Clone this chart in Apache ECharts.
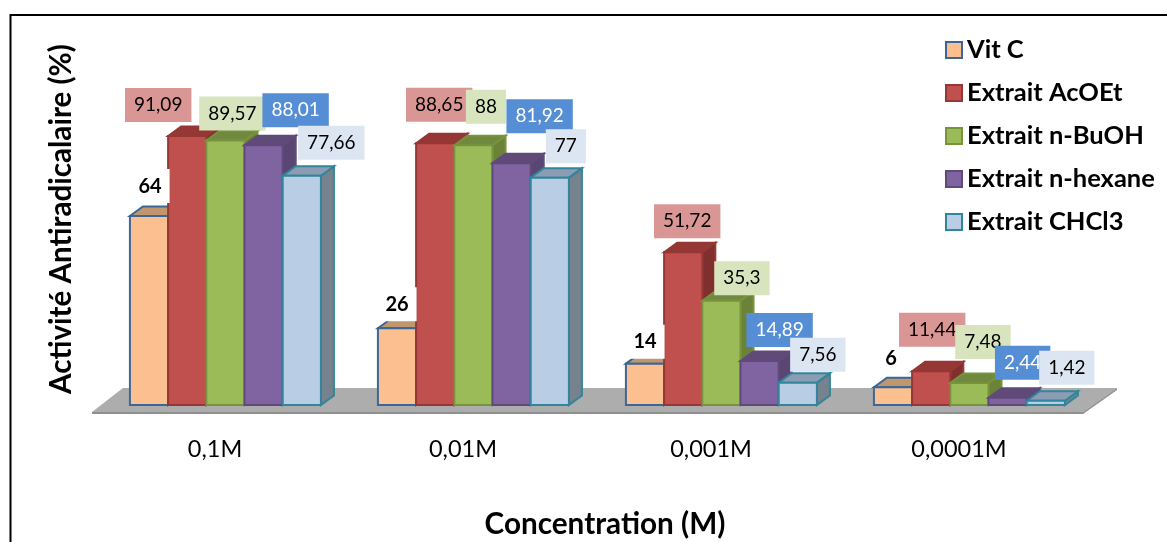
<!DOCTYPE html>
<html>
<head>
<meta charset="utf-8">
<style>
  html, body { margin: 0; padding: 0; background: #fff; }
  #chart { width: 1167px; height: 542px; }
</style>
<script src="https://cdn.jsdelivr.net/npm/echarts@6/dist/echarts.min.js"></script>
</head>
<body>
<div id="chart"></div>
<script>
// values
var categories = ['0,1M', '0,01M', '0,001M', '0,0001M'];
var vitC = [64, 26, 14, 6];
var extraitAcOEt = [91.09, 88.65, 51.72, 11.44];
var extraitBuOH = [89.57, 88, 35.3, 7.48];
var extraitHexane = [88.01, 81.92, 14.89, 2.44];
var extraitCHCl3 = [77.66, 77, 7.56, 1.42];

var FONT = 'Lato, sans-serif';
var BAR_W = 38.2, DEPTH_X = 13, DEPTH_Y = 9.5;

// hand placed data labels, offset from the top middle of the bar
var labelShift = [
  [[1, -30], [0, -24], [0, -22], [-2, -29]],
  [[-29, -31], [4, -38.5], [4, -31], [1, -41.5]],
  [[7, -27], [12.5, -38.5], [20.5, -22.5], [13.5, -41]],
  [[32, -35], [28, -47], [20, -31], [15, -35]],
  [[29.5, -33], [16, -31.5], [20, -28], [21, -33]]
];

var looks = [
  { name: 'Vit C', values: vitC, front: '#fcbf8f', edge: '#3a6795', top: '#c0966f', side: '#b98e6a',
    labelBg: '#fff', labelColor: '#000', labelFont: 'bold 20px ' + FONT, pad: [7, 8] },
  { name: 'Extrait AcOEt', values: extraitAcOEt, front: '#c0504d', edge: '#953735', top: '#953735', side: '#7f302e',
    labelBg: '#d99694', labelColor: '#000', labelFont: '19px ' + FONT, pad: [7.5, 9] },
  { name: 'Extrait n-BuOH', values: extraitBuOH, front: '#9bbb59', edge: '#77933c', top: '#71893f', side: '#6a8338',
    labelBg: '#d7e4bd', labelColor: '#000', labelFont: '19px ' + FONT, pad: [7.5, 9] },
  { name: 'Extrait n-hexane', values: extraitHexane, front: '#8064a2', edge: '#604a7b', top: '#5f4a78', side: '#5a4672',
    labelBg: '#558ed5', labelColor: '#fff', labelFont: '19px ' + FONT, pad: [7.5, 9] },
  { name: 'Extrait CHCl3', values: extraitCHCl3, front: '#b9cde5', edge: '#31859c', top: '#8c9db3', side: '#76838f',
    labelBg: '#dce6f2', labelColor: '#000', labelFont: '19px ' + FONT, pad: [7.5, 9] }
];

function drawBar(s) {
  return function (params, api) {
    var cat = api.value(0), val = api.value(1);
    var band = api.size([1, 0])[0];
    var mid = api.coord([cat, 0])[0] + band * 0.042;
    var x = mid + (s - 2.5) * BAR_W;
    var y0 = api.coord([cat, 0])[1];
    var y1 = api.coord([cat, val])[1];
    var x1 = x + BAR_W;
    var shift = labelShift[s][params.dataIndex];
    var look = looks[s];
    var lw = 2;
    return {
      type: 'group',
      children: [
        { type: 'polygon', shape: { points: [[x1, y1], [x1 + DEPTH_X, y1 - DEPTH_Y], [x1 + DEPTH_X, y0 - DEPTH_Y], [x1, y0]] },
          style: { fill: look.side, stroke: look.edge, lineWidth: lw } },
        { type: 'polygon', shape: { points: [[x, y1], [x + DEPTH_X, y1 - DEPTH_Y], [x1 + DEPTH_X, y1 - DEPTH_Y], [x1, y1]] },
          style: { fill: look.top, stroke: look.edge, lineWidth: lw } },
        { type: 'rect', shape: { x: x, y: y1, width: BAR_W, height: y0 - y1 },
          style: { fill: look.front, stroke: look.edge, lineWidth: lw } },
        { type: 'text', z2: 100 + s,
          x: x + BAR_W / 2 + shift[0], y: y1 + shift[1],
          style: {
            text: String(val).replace('.', ','),
            font: look.labelFont,
            fill: look.labelColor,
            align: 'center',
            verticalAlign: 'middle',
            backgroundColor: look.labelBg,
            padding: look.pad
          } }
      ]
    };
  };
}

function drawFloor(params) {
  var c = params.coordSys;
  var yb = c.y + c.height;
  var xr = c.x + c.width;
  return {
    type: 'group',
    children: [
      { type: 'polygon', shape: { points: [[c.x + 1, yb + 7], [c.x + 32, yb - 17], [xr + 34, yb - 17], [xr, yb + 7]] },
        style: { fill: '#adadad' } },
      { type: 'polygon', shape: { points: [[c.x + 1, yb + 7], [xr, yb + 7], [xr + 34, yb - 17], [xr + 34, yb - 15], [xr, yb + 9], [c.x + 1, yb + 9]] },
        style: { fill: '#8f8f8f' } }
    ]
  };
}

var series = [{
  name: 'Plateau',
  type: 'custom',
  silent: true,
  data: [[0, 0]],
  renderItem: drawFloor
}];
looks.forEach(function (look, s) {
  series.push({
    name: look.name,
    type: 'custom',
    itemStyle: { color: look.front, borderColor: look.edge, borderWidth: 2 },
    encode: { x: 0, y: 1 },
    data: look.values.map(function (v, i) { return [i, v]; }),
    renderItem: drawBar(s)
  });
});

var chart = echarts.init(document.getElementById('chart'), null, { renderer: 'canvas' });
chart.setOption({
  animation: false,
  backgroundColor: '#fff',
  // v6 would otherwise shrink the grid to keep the axis names inside
  grid: { left: 91, top: 33, width: 992, bottom: 137, outerBoundsMode: 'none' },
  legend: {
    data: looks.map(function (l) { return l.name; }),
    orient: 'vertical',
    left: 945,
    top: 37,
    padding: 0,
    icon: 'rect',
    itemWidth: 16,
    itemHeight: 16,
    itemGap: 17,
    textStyle: { fontFamily: FONT, fontWeight: 'bold', fontSize: 25.5, lineHeight: 22, color: '#000' }
  },
  xAxis: {
    type: 'category',
    data: categories,
    axisLine: { show: false },
    axisTick: { show: false },
    axisLabel: { margin: 32, fontFamily: FONT, fontSize: 23.5, color: '#000' },
    name: 'Concentration (M)',
    nameLocation: 'middle',
    nameGap: 104,
    nameTextStyle: { fontFamily: FONT, fontWeight: 'bold', fontSize: 29.7, color: '#000', padding: [0, 0, 0, 36] }
  },
  yAxis: {
    type: 'value',
    min: 0,
    max: 126,
    axisLine: { show: false },
    axisTick: { show: false },
    axisLabel: { show: false },
    splitLine: { show: false },
    name: 'Activité Antiradicalaire (%)',
    nameLocation: 'middle',
    nameRotate: 90,
    nameGap: 15,
    nameTextStyle: { fontFamily: FONT, fontWeight: 'bold', fontSize: 29.6, color: '#000' }
  },
  graphic: [{
    type: 'polyline',
    shape: { points: [[10.5, 542], [10.5, 15], [1167, 15]] },
    style: { stroke: '#000', lineWidth: 2, fill: 'none' }
  }],
  series: series
});
</script>
</body>
</html>
